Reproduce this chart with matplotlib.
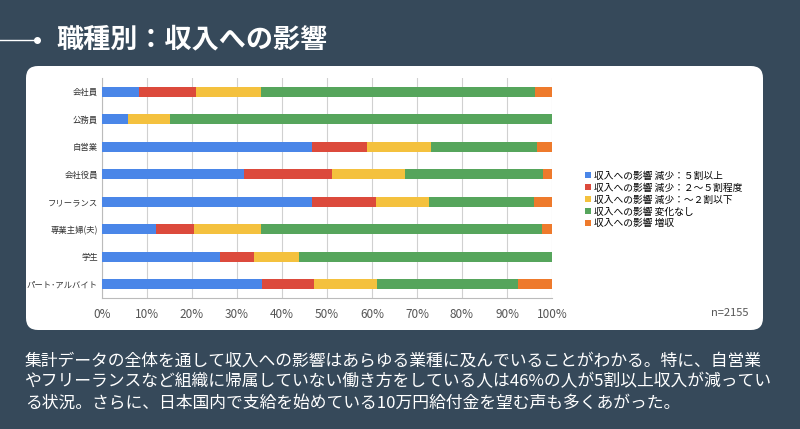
import matplotlib.pyplot as plt
import numpy as np
from matplotlib.patches import FancyBboxPatch, Patch
from matplotlib.lines import Line2D
from matplotlib.ticker import PercentFormatter

plt.rcParams['font.family'] = ['Noto Sans CJK JP', 'DejaVu Sans']

# データ（%）
jobs = ["会社員", "公務員", "自営業", "会社役員", "フリーランス", "専業主婦(夫)", "学生", "パート･アルバイト"]
gen5 = [8.2, 5.8, 46.6, 31.6, 46.7, 12.1, 26.2, 35.6]      # 減少：5割以上
gen2_5 = [12.7, 0.0, 12.2, 19.6, 14.1, 8.4, 7.6, 11.5]     # 減少：2～5割程度
gen2 = [14.4, 9.3, 14.2, 16.1, 11.9, 14.8, 10.0, 13.9]     # 減少：～2割以下
nochange = [60.9, 84.9, 23.7, 30.6, 23.2, 62.4, 56.2, 31.5]  # 変化なし
increase = [3.8, 0.0, 3.3, 2.1, 4.1, 2.3, 0.0, 7.5]          # 増収
labels = ["収入への影響 減少：５割以上", "収入への影響 減少：２～５割程度",
          "収入への影響 減少：～２割以下", "収入への影響 変化なし", "収入への影響 増収"]
colors = ["#4a86e8", "#dc4a3c", "#f4c13e", "#56a55c", "#ee7a2c"]

bg = "#36495a"
fig = plt.figure(figsize=(8, 4.29), dpi=100, facecolor=bg)

# 白いパネル
panel = FancyBboxPatch((0.26, 0.99), 7.37, 2.64, boxstyle="round,pad=0,rounding_size=0.12",
                       transform=fig.dpi_scale_trans, facecolor="white", edgecolor="none", zorder=-1)
fig.patches.append(panel)

# タイトル
fig.add_artist(Line2D([0, 0.043], [0.907, 0.907], color="white", lw=1, transform=fig.transFigure))
fig.add_artist(Line2D([0.046], [0.907], marker="o", ms=4, color="white", transform=fig.transFigure))
fig.text(0.071, 0.907, "職種別：収入への影響", color="white", fontsize=19.5, fontweight="bold", va="center")

ax = fig.add_axes([0.1275, 0.3054, 0.5625, 0.5128])
ax.set_facecolor("white")
y = np.arange(len(jobs))
left = np.zeros(len(jobs))
for vals, c in zip([gen5, gen2_5, gen2, nochange, increase], colors):
    ax.barh(y, vals, left=left, height=0.36, color=c, zorder=3)
    left += np.array(vals)

ax.set_xlim(0, 100)
ax.set_ylim(len(jobs) - 0.5, -0.5)
ax.set_xticks(np.arange(0, 101, 10))
ax.xaxis.set_major_formatter(PercentFormatter(decimals=0))
ax.set_yticks(y)
ax.set_yticklabels(jobs, fontsize=6.0, color="#333333")
ax.tick_params(axis="x", labelsize=8.5, colors="#555555", length=0, pad=7)
ax.tick_params(axis="y", length=0, pad=3)
ax.grid(axis="x", color="#d0d0d0", lw=0.8, zorder=0)
for s in ["top", "right"]:
    ax.spines[s].set_visible(False)
for s in ["left", "bottom"]:
    ax.spines[s].set_color("#bbbbbb")

handles = [Patch(facecolor=c, edgecolor="none") for c in colors]
fig.legend(handles, labels, loc="center left", bbox_to_anchor=(0.72, 0.535), frameon=False,
           fontsize=7, handlelength=0.6, handleheight=0.6, handletextpad=0.4, labelspacing=0.2)

fig.text(0.935, 0.27, "n=2155", fontsize=8, color="#555555", ha="right", va="center")

body = ("集計データの全体を通して収入への影響はあらゆる業種に及んでいることがわかる。特に、自営業\n"
        "やフリーランスなど組織に帰属していない働き方をしている人は46%の人が5割以上収入が減ってい\n"
        "る状況。さらに、日本国内で支給を始めている10万円給付金を望む声も多くあがった。")
fig.text(0.031, 0.11, body, color="white", fontsize=12.1, va="center", linespacing=1.32)

fig.savefig("out.png", dpi=100, facecolor=bg)
